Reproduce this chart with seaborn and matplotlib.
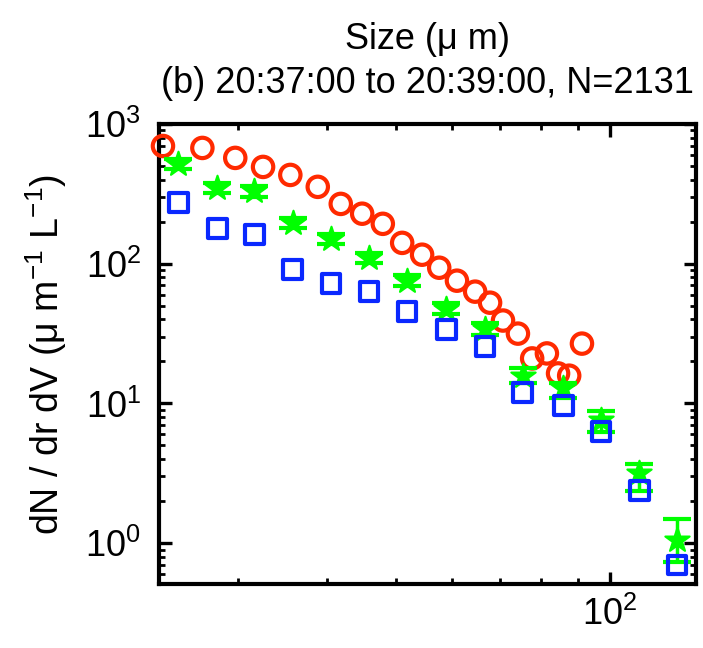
import matplotlib
matplotlib.use("Agg")
import numpy as np
import pandas as pd
import matplotlib.pyplot as plt
import seaborn as sns
from matplotlib.ticker import LogLocator, NullFormatter, LogFormatterMathtext

# ---- data ----
red_size = [23.5, 26.7, 29.7, 32.5, 35.5, 38.8, 41.8, 44.8, 47.9, 51.0, 54.4,
            57.5, 60.9, 64.6, 67.8, 70.7, 74.2, 77.7, 81.5, 84.5, 87.6, 91.3]
red_conc = [696, 674, 572, 493, 432, 355, 268, 228, 193, 141, 116,
            93.6, 75.6, 63.1, 52.6, 39.2, 31.6, 21.0, 22.8, 16.4, 15.8, 26.8]

bin_size = [24.7, 28.0, 31.6, 35.8, 40.5, 45.8, 51.8, 58.8, 66.7, 75.4,
            85.9, 97.1, 109.9, 124.2]
blue_conc = [273, 178, 161, 90.6, 72.0, 63.1, 45.4, 33.8, 25.5, 12.0,
             9.68, 6.31, 2.39, 0.697]
green_conc = [518, 349, 332, 196, 151, 110, 75.6, 47.7, 34.3, 15.8,
              12.8, 7.57, 3.16, 1.05]
green_hi = [562, 379, 361, 213, 164, 120, 83.4, 52.6, 37.9, 17.8,
            14.1, 8.77, 3.67, 1.48]
green_lo = [477, 321, 301, 181, 139, 102, 69.6, 43.9, 31.1, 13.9,
            10.9, 6.21, 2.35, 0.73]

title_text = "(b) 20:37:00 to 20:39:00, N=2131"
xlabel_text = "Size (\u03bc m)"
ylabel_text = "dN / dr dV (\u03bc m$^{-1}$ L$^{-1}$)"

RED = "#FF2A00"
GREEN = "#00FF00"
BLUE = "#0A28FF"

sns.set_style("ticks")
plt.rcParams["font.family"] = ["Liberation Sans", "DejaVu Sans"]
plt.rcParams["mathtext.fontset"] = "custom"
plt.rcParams["mathtext.rm"] = "Liberation Sans"
plt.rcParams["mathtext.it"] = "Liberation Sans:italic"
plt.rcParams["mathtext.bf"] = "Liberation Sans:bold"
plt.rcParams["text.color"] = "black"
plt.rcParams["axes.labelcolor"] = "black"
plt.rcParams["xtick.color"] = "black"
plt.rcParams["ytick.color"] = "black"

FS = 26

fig = plt.figure(figsize=(7.03, 6.48), dpi=100)
ax = fig.add_axes([159/703, 1-584/648, (696-159)/703, (584-124)/648])

df_red = pd.DataFrame({"size": red_size, "conc": red_conc})
df_bin = pd.DataFrame({"size": bin_size, "blue": blue_conc, "green": green_conc,
                       "lo": green_lo, "hi": green_hi})

ax.set_xscale("log")
ax.set_yscale("log")

sns.scatterplot(data=df_red, x="size", y="conc", ax=ax, marker="o", s=215,
                facecolors="none", edgecolor=RED, linewidth=3.0, clip_on=False,
                zorder=3)

yerr = np.vstack([df_bin["green"] - df_bin["lo"], df_bin["hi"] - df_bin["green"]])
ax.errorbar(df_bin["size"], df_bin["green"], yerr=yerr, fmt="none",
            ecolor=GREEN, elinewidth=2.5, capsize=10, capthick=3, zorder=4,
            clip_on=False)
sns.scatterplot(data=df_bin, x="size", y="green", ax=ax, marker="*", s=340,
                color=GREEN, edgecolor=GREEN, linewidth=1.5, clip_on=False,
                zorder=4)
sns.scatterplot(data=df_bin, x="size", y="blue", ax=ax, marker="s", s=185,
                facecolors="none", edgecolor=BLUE, linewidth=3.0, clip_on=False,
                zorder=5)

ax.set_xlim(23.2, 132.1)
ax.set_ylim(0.51, 1000)

ax.xaxis.set_major_locator(LogLocator(base=10))
ax.xaxis.set_minor_locator(LogLocator(base=10, subs=np.arange(2, 10)))
ax.xaxis.set_major_formatter(LogFormatterMathtext())
ax.xaxis.set_minor_formatter(NullFormatter())
ax.yaxis.set_major_locator(LogLocator(base=10))
ax.yaxis.set_minor_locator(LogLocator(base=10, subs=np.arange(2, 10)))
ax.yaxis.set_major_formatter(LogFormatterMathtext())
ax.yaxis.set_minor_formatter(NullFormatter())

ax.tick_params(which="both", direction="in", top=True, right=True,
               labelsize=FS, colors="black")
ax.tick_params(which="major", length=9, width=2.4)
ax.tick_params(which="minor", length=4.5, width=2.0)
ax.tick_params(axis="y", which="major", pad=13)
ax.tick_params(axis="x", which="major", pad=9)
for sp in ax.spines.values():
    sp.set_linewidth(3)
    sp.set_color("black")

ax.xaxis.set_label_position("top")
ax.set_xlabel(xlabel_text, fontsize=FS, labelpad=54, color="black")
ax.set_title(title_text, fontsize=FS, y=1.0, pad=22, color="black")
ax.set_ylabel(ylabel_text, fontsize=FS + 1, labelpad=12, color="black")

fig.savefig("out.png", dpi=100)
